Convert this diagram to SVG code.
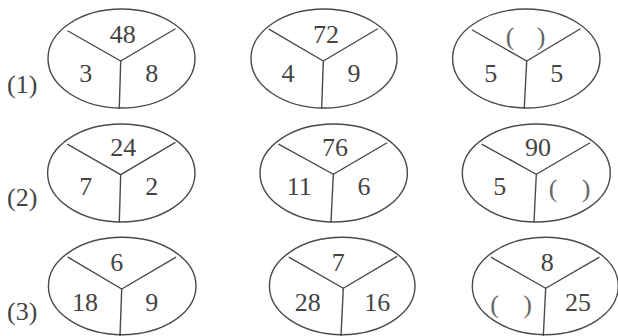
<svg xmlns="http://www.w3.org/2000/svg" width="618" height="336" viewBox="0 0 618 336">
<style>
.o{fill:none;stroke:#4a4a4a;stroke-width:1.4}
.l{fill:none;stroke:#4a4a4a;stroke-width:1.4;stroke-linecap:round}
text{font-family:'Liberation Serif',Times,'Times New Roman',serif;font-size:26px;fill:#444}
.t{text-anchor:middle}
.p{fill:#666;text-anchor:middle}
</style>
<rect width="618" height="336" fill="#fff"/>
<g id="labels">
<text x="7" y="93">(1)</text>
<text x="7" y="206">(2)</text>
<text x="7" y="320">(3)</text>
</g>
<g id="node-r1c1">
<ellipse class="o" cx="121.5" cy="58.5" rx="73.5" ry="49.5"/>
<path class="l" d="M68,31 L120.7,61 L175,29 M120.7,61 L119.3,108"/>
<text class="t" x="122.7" y="43">48</text>
<text class="t" x="85.7" y="82">3</text>
<text class="t" x="151.7" y="82">8</text>
</g>
<g id="node-r1c2">
<ellipse class="o" cx="324" cy="58.5" rx="73" ry="49.5"/>
<path class="l" d="M269.3,29.3 L323.3,61 L377.3,29 M323.3,61 L321.7,108"/>
<text class="t" x="326" y="43">72</text>
<text class="t" x="288" y="82">4</text>
<text class="t" x="354" y="82">9</text>
</g>
<g id="node-r1c3">
<ellipse class="o" cx="526.3" cy="58.5" rx="73.7" ry="49.5"/>
<path class="l" d="M472.3,30 L526.7,61 L580,29 M526.7,61 L524.3,108"/>
<text class="p" y="45"><tspan x="510">(</tspan><tspan x="541">)</tspan></text>
<text class="t" x="490.7" y="82">5</text>
<text class="t" x="556.7" y="82">5</text>
</g>
<g id="node-r2c1">
<ellipse class="o" cx="121.3" cy="173" rx="73.7" ry="49"/>
<path class="l" d="M67.7,144.3 L120.7,174.7 L175,142.7 M120.7,174.7 L119.3,222"/>
<text class="t" x="123.3" y="156.3">24</text>
<text class="t" x="85.7" y="195.3">7</text>
<text class="t" x="151.7" y="195.3">2</text>
</g>
<g id="node-r2c2">
<ellipse class="o" cx="333.7" cy="173" rx="73.7" ry="49"/>
<path class="l" d="M279,144.3 L333.3,174.3 L386.7,143 M333.3,174.3 L331,222"/>
<text class="t" x="335" y="156.3">76</text>
<text class="t" x="299.3" y="195.3">11</text>
<text class="t" x="364" y="195.3">6</text>
</g>
<g id="node-r2c3">
<ellipse class="o" cx="536.3" cy="173" rx="74" ry="49"/>
<path class="l" d="M482,144.3 L536.3,174.3 L589.7,143 M536.3,174.3 L534,222"/>
<text class="t" x="538" y="156.3">90</text>
<text class="t" x="499.7" y="195.3">5</text>
<text class="p" y="197"><tspan x="553">(</tspan><tspan x="586">)</tspan></text>
</g>
<g id="node-r3c1">
<ellipse class="o" cx="122.2" cy="286" rx="73.8" ry="48.7"/>
<path class="l" d="M68.3,257.3 L121.7,289 L175.7,257.3 M121.7,289 L120,336"/>
<text class="t" x="116.7" y="270.7">6</text>
<text class="t" x="85" y="311.3">18</text>
<text class="t" x="151.7" y="311.3">9</text>
</g>
<g id="node-r3c2">
<ellipse class="o" cx="342.2" cy="286" rx="72.8" ry="48.7"/>
<path class="l" d="M289.3,257.3 L343.3,288.3 L396.7,256.7 M343.3,288.3 L341,336"/>
<text class="t" x="338.3" y="270.7">7</text>
<text class="t" x="307.7" y="311.3">28</text>
<text class="t" x="377.3" y="311.3">16</text>
</g>
<g id="node-r3c3">
<ellipse class="o" cx="545.3" cy="286" rx="73" ry="48.7"/>
<path class="l" d="M491.3,257.3 L545.7,288.3 L599,257.3 M545.7,288.3 L543.3,336"/>
<text class="t" x="547.3" y="270.7">8</text>
<text class="p" y="313"><tspan x="494.5">(</tspan><tspan x="527.5">)</tspan></text>
<text class="t" x="578" y="311.3">25</text>
</g>
</svg>
